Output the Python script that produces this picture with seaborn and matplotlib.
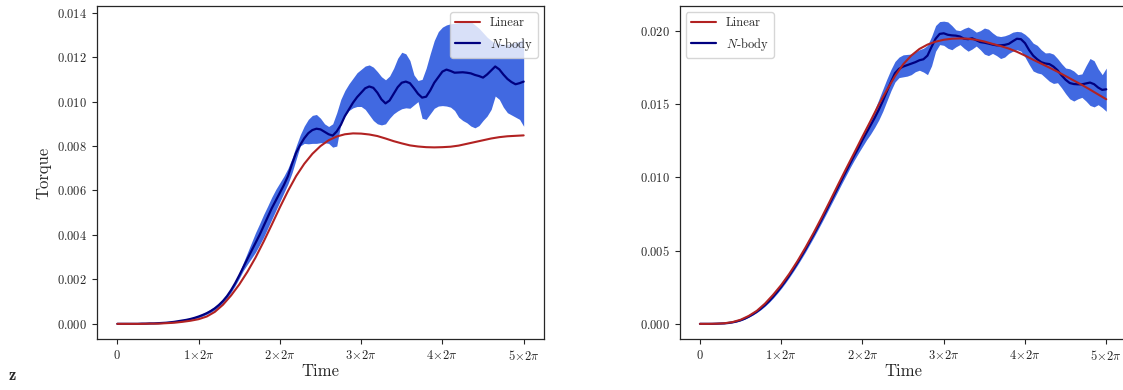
import numpy as np
import pandas as pd
import matplotlib
matplotlib.use("Agg")
import matplotlib.pyplot as plt
import seaborn as sns

# ---- time grids (in units of one orbit, 2*pi) ----
t_fine = np.linspace(0.0, 5.0, 101)   # N-body samples
t_lin = np.linspace(0.0, 5.0, 51)     # linear-theory samples

# ---- left panel ----
left_linear = [
    0, 0, 0, 0, 0.00001, 0.00001, 0.00003, 0.00005, 0.00009, 0.00014,
    0.00021, 0.00033, 0.00054, 0.00086, 0.00128, 0.00177, 0.00234, 0.00298, 0.00370, 0.00446,
    0.00524, 0.00598, 0.00665, 0.00720, 0.00765, 0.00800, 0.00826, 0.00843, 0.00853, 0.00857,
    0.00856, 0.00852, 0.00845, 0.00834, 0.00822, 0.00812, 0.00803, 0.00798, 0.00795, 0.00794,
    0.00795, 0.00797, 0.00802, 0.00810, 0.00818, 0.00826, 0.00834, 0.00840, 0.00844, 0.00846,
    0.00848,
]

left_nbody = [
    0, 0, 0, 0, 0, 0, 0.00001, 0.00001, 0.00002, 0.00002,
    0.00003, 0.00004, 0.00005, 0.00007, 0.00009, 0.00012, 0.00015, 0.00018, 0.00022, 0.00027,
    0.00033, 0.00040, 0.00048, 0.00058, 0.00070, 0.00085, 0.00103, 0.00125, 0.00152, 0.00183,
    0.00218, 0.00255, 0.00292, 0.00328, 0.00364, 0.00400, 0.00440, 0.00480, 0.00520, 0.00555,
    0.00590, 0.00625, 0.00665, 0.00720, 0.00770, 0.00805, 0.00835, 0.00858, 0.00872, 0.00878,
    0.00875, 0.00864, 0.00853, 0.00847, 0.00866, 0.00895, 0.00935, 0.00965, 0.00995, 0.01020,
    0.01040, 0.01060, 0.01068, 0.01062, 0.01040, 0.01010, 0.00992, 0.01005, 0.01035, 0.01065,
    0.01085, 0.01090, 0.01083, 0.01060, 0.01035, 0.01018, 0.01022, 0.01050, 0.01085, 0.01110,
    0.01135, 0.01144, 0.01138, 0.01130, 0.01131, 0.01132, 0.01130, 0.01127, 0.01120, 0.01115,
    0.01108, 0.01122, 0.01140, 0.01158, 0.01145, 0.01122, 0.01102, 0.01088, 0.01078, 0.01083,
    0.01090,
]

left_low = [
    0, 0, 0, 0, 0, 0, 0.00001, 0.00001, 0.00001, 0.00002,
    0.00002, 0.00003, 0.00004, 0.00005, 0.00007, 0.00009, 0.00012, 0.00015, 0.00018, 0.00022,
    0.00028, 0.00035, 0.00043, 0.00052, 0.00063, 0.00077, 0.00095, 0.00116, 0.00142, 0.00172,
    0.00205, 0.00240, 0.00268, 0.00295, 0.00322, 0.00355, 0.00390, 0.00430, 0.00470, 0.00510,
    0.00550, 0.00590, 0.00630, 0.00680, 0.00740, 0.00800, 0.00812, 0.00810, 0.00812, 0.00812,
    0.00815, 0.00815, 0.00812, 0.00795, 0.00800, 0.00900, 0.00935, 0.00960, 0.00972, 0.00978,
    0.00978, 0.00965, 0.00940, 0.00915, 0.00900, 0.00895, 0.00900, 0.00925, 0.00945, 0.00958,
    0.00968, 0.00972, 0.00970, 0.00985, 0.01000, 0.00925, 0.00920, 0.00945, 0.00970, 0.00980,
    0.00982, 0.00980, 0.00975, 0.00960, 0.00930, 0.00915, 0.00905, 0.00890, 0.00882, 0.00892,
    0.00915, 0.00935, 0.00965, 0.01025, 0.01010, 0.00975, 0.00950, 0.00940, 0.00930, 0.00920,
    0.00889,
]

left_high = [
    0, 0, 0, 0, 0, 0, 0.00001, 0.00001, 0.00002, 0.00003,
    0.00004, 0.00005, 0.00006, 0.00008, 0.00011, 0.00014, 0.00018, 0.00022, 0.00026, 0.00032,
    0.00038, 0.00046, 0.00055, 0.00066, 0.00078, 0.00094, 0.00112, 0.00134, 0.00160, 0.00192,
    0.00230, 0.00275, 0.00320, 0.00365, 0.00410, 0.00450, 0.00492, 0.00530, 0.00570, 0.00605,
    0.00635, 0.00665, 0.00700, 0.00745, 0.00800, 0.00850, 0.00890, 0.00920, 0.00938, 0.00942,
    0.00925, 0.00900, 0.00888, 0.00900, 0.00950, 0.01010, 0.01050, 0.01080, 0.01105, 0.01130,
    0.01145, 0.01160, 0.01165, 0.01155, 0.01135, 0.01112, 0.01098, 0.01115, 0.01150, 0.01195,
    0.01222, 0.01215, 0.01185, 0.01120, 0.01095, 0.01100, 0.01150, 0.01215, 0.01275, 0.01315,
    0.01335, 0.01345, 0.01350, 0.01352, 0.01355, 0.01358, 0.01362, 0.01360, 0.01345, 0.01330,
    0.01310, 0.01290, 0.01275, 0.01265, 0.01262, 0.01258, 0.01258, 0.01262, 0.01266, 0.01272,
    0.01280,
]

# ---- right panel ----
right_linear = [
    0, 0, 0.00001, 0.00004, 0.00012, 0.00028, 0.00054, 0.00089, 0.00138, 0.00198,
    0.00265, 0.00342, 0.00428, 0.00522, 0.00622, 0.00728, 0.00838, 0.00950, 0.01060, 0.01168,
    0.01278, 0.01385, 0.01495, 0.01595, 0.01690, 0.01770, 0.01830, 0.01875, 0.01905, 0.01925,
    0.01938, 0.01945, 0.01947, 0.01945, 0.01938, 0.01926, 0.01910, 0.01895, 0.01878, 0.01856,
    0.01830, 0.01802, 0.01775, 0.01748, 0.01720, 0.01690, 0.01660, 0.01630, 0.01598, 0.01565,
    0.01532,
]

right_nbody = [
    0, 0, 0, 0, 0.00001, 0.00002, 0.00003, 0.00006, 0.00010, 0.00016,
    0.00024, 0.00035, 0.00049, 0.00065, 0.00083, 0.00104, 0.00128, 0.00155, 0.00185, 0.00218,
    0.00253, 0.00291, 0.00331, 0.00373, 0.00417, 0.00463, 0.00510, 0.00560, 0.00610, 0.00662,
    0.00715, 0.00769, 0.00824, 0.00879, 0.00934, 0.00989, 0.01043, 0.01097, 0.01150, 0.01200,
    0.01255, 0.01305, 0.01355, 0.01405, 0.01460, 0.01520, 0.01585, 0.01650, 0.01710, 0.01740,
    0.01755, 0.01765, 0.01775, 0.01785, 0.01798, 0.01805, 0.01830, 0.01890, 0.01945, 0.01978,
    0.01982, 0.01972, 0.01968, 0.01966, 0.01960, 0.01945, 0.01942, 0.01948, 0.01935, 0.01922,
    0.01918, 0.01912, 0.01905, 0.01900, 0.01900, 0.01903, 0.01910, 0.01928, 0.01945, 0.01942,
    0.01915, 0.01868, 0.01830, 0.01805, 0.01785, 0.01776, 0.01772, 0.01755, 0.01730, 0.01695,
    0.01665, 0.01643, 0.01636, 0.01634, 0.01634, 0.01640, 0.01646, 0.01635, 0.01612, 0.01596,
    0.01600,
]

right_low = [
    0, 0, 0, 0, 0.00001, 0.00002, 0.00003, 0.00005, 0.00009, 0.00014,
    0.00022, 0.00032, 0.00045, 0.00060, 0.00077, 0.00097, 0.00120, 0.00146, 0.00175, 0.00207,
    0.00241, 0.00278, 0.00317, 0.00358, 0.00401, 0.00446, 0.00492, 0.00541, 0.00590, 0.00641,
    0.00693, 0.00746, 0.00800, 0.00854, 0.00908, 0.00962, 0.01015, 0.01068, 0.01118, 0.01165,
    0.01210, 0.01255, 0.01295, 0.01340, 0.01390, 0.01450, 0.01520, 0.01590, 0.01650, 0.01680,
    0.01685, 0.01690, 0.01700, 0.01720, 0.01730, 0.01718, 0.01700, 0.01760, 0.01860, 0.01905,
    0.01900, 0.01880, 0.01870, 0.01890, 0.01905, 0.01880, 0.01860, 0.01875, 0.01895, 0.01870,
    0.01840, 0.01830, 0.01845, 0.01830, 0.01810, 0.01820, 0.01845, 0.01860, 0.01870, 0.01860,
    0.01820, 0.01770, 0.01725, 0.01712, 0.01705, 0.01680, 0.01655, 0.01640, 0.01645, 0.01610,
    0.01570, 0.01535, 0.01520, 0.01535, 0.01545, 0.01520, 0.01490, 0.01480, 0.01495, 0.01475,
    0.01450,
]

right_high = [
    0, 0, 0, 0, 0.00001, 0.00002, 0.00004, 0.00007, 0.00011, 0.00017,
    0.00026, 0.00037, 0.00052, 0.00069, 0.00088, 0.00110, 0.00135, 0.00163, 0.00194, 0.00228,
    0.00264, 0.00303, 0.00344, 0.00387, 0.00432, 0.00479, 0.00527, 0.00578, 0.00629, 0.00682,
    0.00736, 0.00791, 0.00847, 0.00903, 0.00959, 0.01015, 0.01070, 0.01125, 0.01180, 0.01232,
    0.01282, 0.01335, 0.01395, 0.01460, 0.01530, 0.01600, 0.01670, 0.01735, 0.01790, 0.01820,
    0.01835, 0.01838, 0.01840, 0.01855, 0.01870, 0.01880, 0.01900, 0.01960, 0.02035, 0.02062,
    0.02065, 0.02060, 0.02035, 0.02005, 0.02000, 0.02015, 0.02025, 0.02010, 0.01990, 0.02000,
    0.02018, 0.02010, 0.01985, 0.01965, 0.01960, 0.01965, 0.01975, 0.01990, 0.01995, 0.01992,
    0.01975, 0.01950, 0.01915, 0.01900, 0.01870, 0.01848, 0.01850, 0.01840, 0.01810, 0.01775,
    0.01745, 0.01740, 0.01725, 0.01700, 0.01705, 0.01760, 0.01810, 0.01795, 0.01740, 0.01700,
    0.01745,
]

x_ticks = [0, 1, 2, 3, 4, 5]
x_ticklabels = ["$0$", r"$1\!\times\!2\pi$", r"$2\!\times\!2\pi$", r"$3\!\times\!2\pi$",
                r"$4\!\times\!2\pi$", r"$5\!\times\!2\pi$"]

# ---- style ----
sns.set_style("ticks")
plt.rcParams["font.family"] = ["cmr10", "DejaVu Serif"]
plt.rcParams["mathtext.fontset"] = "cm"
plt.rcParams["axes.formatter.use_mathtext"] = True
plt.rcParams["axes.unicode_minus"] = False

RED = "#b22222"
NAVY = "#000080"
BAND = "#4169e1"

fig = plt.figure(figsize=(11.23, 3.90), dpi=100)
ax_l = fig.add_axes([0.0864, 0.1308, 0.398, 0.8538])
ax_r = fig.add_axes([0.6052, 0.1308, 0.398, 0.8538])

panels = [
    (ax_l, left_linear, left_nbody, left_low, left_high, "upper right"),
    (ax_r, right_linear, right_nbody, right_low, right_high, "upper left"),
]

for ax, lin, nb, lo, hi, loc in panels:
    df_lin = pd.DataFrame({"time": t_lin, "torque": lin})
    df_nb = pd.DataFrame({"time": t_fine, "torque": nb, "low": lo, "high": hi})
    ax.fill_between(df_nb["time"], df_nb["low"], df_nb["high"],
                    color=BAND, linewidth=0, zorder=1)
    sns.lineplot(data=df_lin, x="time", y="torque", ax=ax, color=RED,
                 lw=1.5, label="Linear", zorder=3)
    sns.lineplot(data=df_nb, x="time", y="torque", ax=ax, color=NAVY,
                 lw=1.6, label="$N$-body", zorder=2)
    ax.set_xticks(x_ticks)
    ax.set_xticklabels(x_ticklabels)
    ax.tick_params(labelsize=9, length=3.5, width=0.8)
    ax.set_xlabel("Time", fontsize=12, labelpad=1)
    ax.set_ylabel("")
    for s in ax.spines.values():
        s.set_linewidth(0.9)
    ax.legend(loc=loc, fontsize=9, frameon=True, framealpha=0.8,
              edgecolor="0.8", fancybox=True)

ax_l.set_ylabel("Torque", fontsize=12)

fig.text(0.008, 0.025, "z", fontsize=12, family=["cmb10", "DejaVu Serif"])

fig.savefig("out.png", dpi=100)
